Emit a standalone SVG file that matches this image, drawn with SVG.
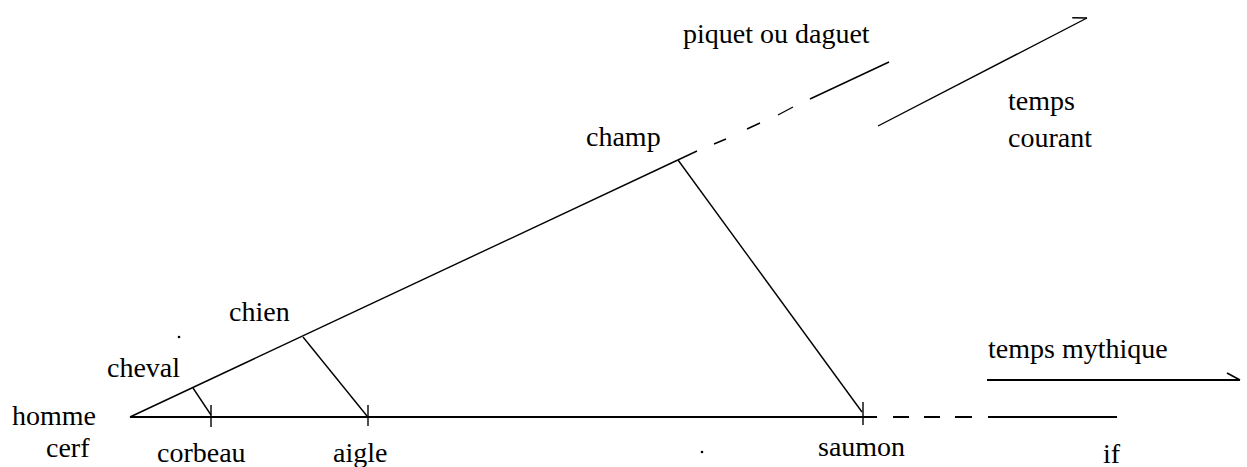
<svg xmlns="http://www.w3.org/2000/svg" width="1247" height="467" viewBox="0 0 1247 467">
<style>
.ln{stroke:#000;stroke-width:1.4;fill:none}
.bl{stroke:#000;stroke-width:2;fill:none}
</style>
<defs>
<marker id="barb" markerUnits="userSpaceOnUse" markerWidth="30" markerHeight="30" refX="15" refY="15" orient="auto" overflow="visible">
<path d="M15,15 L2,8" stroke="#000" stroke-width="1.6" fill="none"/>
</marker>
</defs>
<rect width="1247" height="467" fill="#fff"/>
<g id="connectors">
<line class="ln" x1="130" y1="417" x2="697" y2="151"/>
<line class="ln" x1="714" y1="144" x2="726" y2="139"/>
<line class="ln" x1="747" y1="129" x2="760" y2="123"/>
<line class="ln" x1="778" y1="115" x2="793" y2="107"/>
<line class="ln" x1="810" y1="99" x2="889" y2="62"/>
<line class="bl" x1="130" y1="417" x2="877" y2="417"/>
<line class="bl" x1="893" y1="417" x2="909" y2="417"/>
<line class="bl" x1="924" y1="417" x2="940" y2="417"/>
<line class="bl" x1="955" y1="417" x2="972" y2="417"/>
<line class="bl" x1="988" y1="417" x2="1117" y2="417"/>
<line class="ln" x1="211" y1="405" x2="211" y2="427"/>
<line class="ln" x1="368" y1="405" x2="368" y2="426"/>
<line class="ln" x1="863" y1="402" x2="863" y2="425"/>
<line class="ln" x1="193" y1="388" x2="211" y2="415"/>
<line class="ln" x1="303" y1="337" x2="367" y2="416"/>
<line class="ln" x1="678" y1="160" x2="862" y2="412"/>
<line class="ln" x1="878" y1="126" x2="1087" y2="18" marker-end="url(#barb)"/>
<line class="bl" x1="987" y1="380" x2="1240" y2="380" marker-end="url(#barb)"/>
</g>
<g font-family="Liberation Serif, serif" font-size="28" fill="#000">
<g id="homme"><text x="12" y="425">homme</text></g>
<g id="cerf"><text x="46" y="457">cerf</text></g>
<g id="corbeau"><text x="157" y="462">corbeau</text></g>
<g id="aigle"><text x="333" y="462">aigle</text></g>
<g id="saumon"><text x="818" y="456">saumon</text></g>
<g id="if"><text x="1103" y="463">if</text></g>
<g id="cheval"><text x="107" y="377">cheval</text></g>
<g id="chien"><text x="229" y="321">chien</text></g>
<g id="champ"><text x="586" y="146">champ</text></g>
<g id="piquet"><text x="683" y="43">piquet ou daguet</text></g>
<g id="temps-courant"><text x="1008" y="110">temps</text><text x="1008" y="147">courant</text></g>
<g id="temps-mythique"><text x="988" y="358">temps mythique</text></g>
</g>
<g id="dots"><circle cx="179" cy="337" r="1.3" fill="#000"/><circle cx="702" cy="452" r="1.3" fill="#000"/></g>
</svg>
